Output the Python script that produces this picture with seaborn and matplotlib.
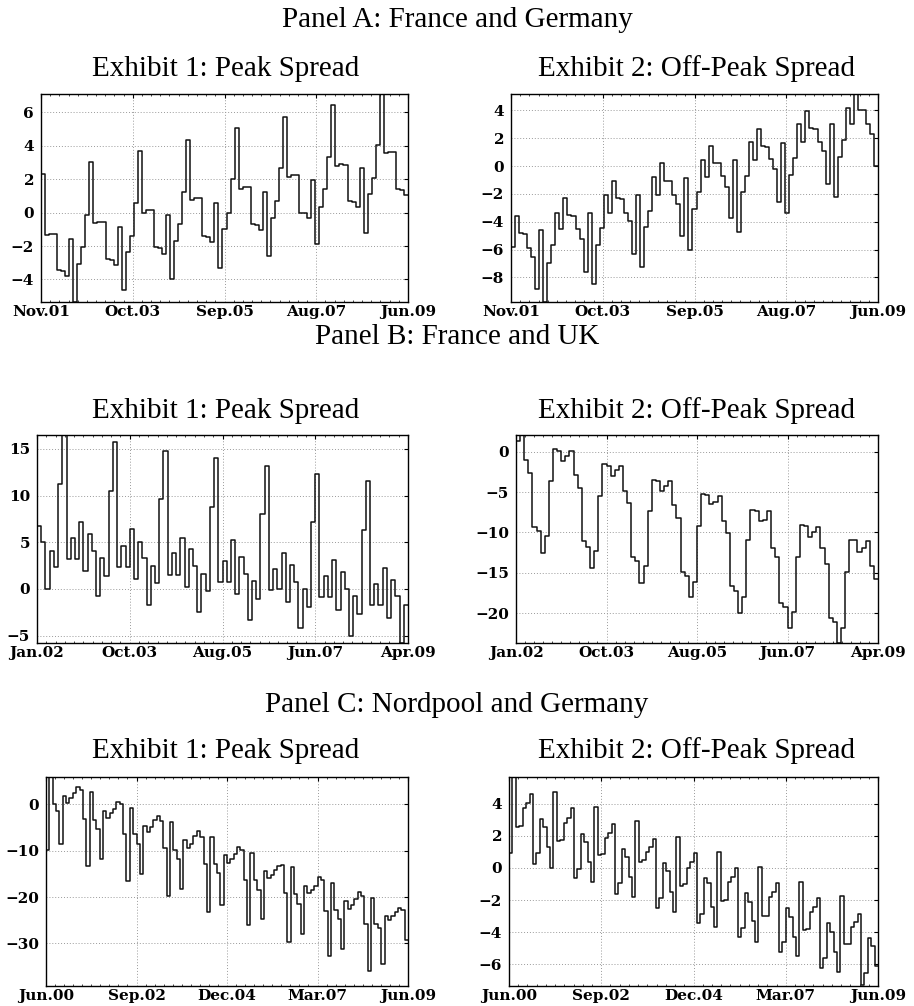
import numpy as np
import pandas as pd
import matplotlib
matplotlib.use("Agg")
import matplotlib.pyplot as plt
import seaborn as sns

# ---- Panel A: France and Germany (Nov.01 - Jun.09) ----
fr_de_peak = [2.3, -1.35, -1.25, -1.25, -3.45, -3.5, -3.8, -1.55, -5.35, -3.1, -2.05, -0.15,
              3.0, -0.65, -0.55, -0.55, -2.8, -2.85, -3.15, -0.85, -4.65, -2.35, -1.4, 0.55,
              3.7, 0.0, 0.15, 0.15, -2.05, -2.1, -2.45, -0.15, -3.95, -1.7, -0.7, 1.25,
              4.35, 0.75, 0.85, 0.85, -1.4, -1.45, -1.75, 0.55, -3.3, -1.0, 0.0, 2.0,
              5.05, 1.4, 1.55, 1.55, -0.7, -0.75, -1.05, 1.25, -2.6, -0.3, 0.7, 2.65,
              5.75, 2.15, 2.25, 2.25, 0.0, -0.05, -0.35, 1.95, -1.9, 0.35, 1.4, 3.35,
              6.45, 2.8, 2.9, 2.85, 0.7, 0.65, 0.35, 2.65, -1.2, 1.1, 2.1, 4.05,
              7.1, 3.55, 3.65, 3.65, 1.4, 1.35, 1.05]
fr_de_offpeak = [-5.8, -3.6, -4.8, -4.85, -5.85, -6.5, -8.85, -4.6, -9.76, -6.95, -5.7, -3.35,
                 -4.55, -2.3, -3.55, -3.6, -4.55, -5.25, -7.6, -3.35, -8.5, -5.65, -4.45, -2.05,
                 -3.35, -1.05, -2.3, -2.35, -3.35, -3.95, -6.35, -2.1, -7.25, -4.4, -3.2, -0.8,
                 -2.05, 0.2, -1.05, -1.1, -2.05, -2.7, -5.05, -0.85, -6.0, -3.1, -1.9, 0.45,
                 -0.8, 1.45, 0.25, 0.2, -0.7, -1.5, -3.75, 0.45, -4.7, -1.9, -0.7, 1.7,
                 0.45, 2.65, 1.45, 1.4, 0.5, -0.2, -2.55, 1.65, -3.4, -0.65, 0.55, 3.0,
                 1.7, 3.95, 2.75, 2.65, 1.75, 1.05, -1.3, 3.0, -2.2, 0.65, 1.9, 4.2,
                 3.05, 5.17, 4.0, 4.0, 3.05, 2.3, 0.0]
fr_de_dates = ["Nov.01", "Oct.03", "Sep.05", "Aug.07", "Jun.09"]

# ---- Panel B: France and UK (Jan.02 - Apr.09) ----
fr_uk_peak = [6.7, 5.0, 0.0, 4.1, 2.3, 11.3, 16.5, 3.2, 5.5, 3.2,
              7.2, 1.9, 5.9, 4.1, -0.8, 3.3, 1.4, 10.5, 15.7, 2.4,
              4.6, 2.4, 6.4, 1.1, 5.0, 3.3, -1.7, 2.5, 0.6, 9.6,
              14.8, 1.5, 3.8, 1.5, 5.5, 0.2, 4.3, 2.5, -2.5, 1.6,
              -0.2, 8.8, 14.0, 0.7, 3.0, 0.7, 5.2, -0.6, 3.4, 1.6,
              -3.35, 0.8, -1.05, 8.0, 13.2, -0.1, 2.1, 0.0, 3.85, -1.4,
              2.55, 0.75, -4.2, 0.0, -1.9, 7.2, 12.35, -0.9, 1.35, -0.9,
              3.05, -2.25, 1.8, -0.05, -5.0, -0.8, -2.65, 6.35, 11.6, -1.75,
              0.55, -1.75, 2.25, -3.1, 0.95, -0.8, -5.8, -1.7]
fr_uk_offpeak = [1.3, 2.06, -1.05, -2.7, -9.3, -9.8, -12.5, -10.4, -3.6, 0.3,
                 0.1, -1.15, -0.5, 0.1, -2.9, -4.5, -11.1, -11.75, -14.35, -12.3,
                 -5.45, -1.55, -1.75, -3.0, -2.3, -1.75, -4.85, -6.4, -13.0, -13.6,
                 -16.3, -14.2, -7.35, -3.5, -3.6, -4.85, -4.25, -3.6, -6.6, -8.25,
                 -14.85, -15.45, -18.05, -16.1, -9.15, -5.3, -5.4, -6.5, -6.2, -5.55,
                 -8.6, -10.1, -16.7, -17.3, -20.0, -18.0, -10.9, -7.2, -7.3, -8.65,
                 -8.5, -7.4, -11.95, -13.0, -18.75, -19.2, -21.85, -19.8, -13.0, -9.1,
                 -9.15, -10.6, -9.9, -9.3, -11.95, -13.9, -20.6, -21.1, -23.7, -21.9,
                 -14.85, -10.9, -10.9, -12.4, -11.9, -11.1, -14.2, -15.75]
fr_uk_dates = ["Jan.02", "Oct.03", "Aug.05", "Jun.07", "Apr.09"]

# ---- Panel C: Nordpool and Germany (Jun.00 - Jun.09) ----
np_de_peak = [-9.9, 5.9, 0.0, -1.5, -8.5, 1.8, 0.2, 1.3, 2.5, 3.7, 3.0, -3.2, -13.3,
              2.6, -3.4, -5.4, -11.9, -1.4, -2.9, -1.8, -0.9, 0.5, 0.0, -6.3, -16.5,
              -0.8, -6.5, -8.6, -15.0, -4.6, -6.0, -4.9, -3.3, -2.6, -3.5, -9.5, -19.8,
              -3.9, -9.9, -11.9, -18.3, -7.8, -9.4, -8.6, -6.8, -5.7, -7.0, -12.9, -23.2,
              -7.0, -12.9, -14.8, -21.7, -11.0, -12.6, -11.7, -10.8, -9.2, -9.8, -16.4, -26.1,
              -10.6, -16.4, -18.4, -24.8, -14.4, -15.9, -15.2, -14.2, -13.2, -13.1, -19.2, -29.6,
              -13.6, -19.4, -21.4, -27.9, -17.6, -19.2, -18.5, -17.7, -15.6, -16.4, -23.0, -32.7,
              -16.9, -22.8, -24.8, -31.2, -20.9, -22.5, -21.7, -20.5, -18.9, -19.7, -25.8, -35.9,
              -20.3, -25.8, -26.7, -34.5, -24.1, -25.0, -24.1, -23.3, -22.3, -22.8, -29.3]
np_de_offpeak = [0.95, 5.65, 2.55, 2.6, 3.7, 4.05, 4.6, 0.25, 0.9, 3.05, 2.55, 1.3, 0.0,
                 4.7, 1.7, 1.75, 2.8, 3.1, 3.7, -0.6, -0.05, 2.1, 1.6, 0.35, -0.9,
                 3.8, 0.8, 0.85, 1.85, 2.2, 2.75, -1.6, -0.95, 1.2, 0.7, -0.55, -1.8,
                 2.9, 0.35, 0.5, 1.0, 1.3, 1.8, -2.5, -1.9, 0.3, -0.2, -1.5, -2.75,
                 1.95, -1.1, -1.0, 0.0, 0.35, 0.9, -3.4, -2.85, -0.6, -0.95, -2.4, -3.65,
                 1.0, -2.05, -2.0, -0.85, -0.55, 0.0, -4.3, -3.75, -1.55, -2.1, -3.3, -4.6,
                 0.05, -3.0, -3.0, -1.8, -1.5, -0.95, -5.25, -4.6, -2.5, -3.05, -4.3, -5.5,
                 -0.85, -3.85, -3.8, -2.75, -2.4, -1.9, -6.2, -5.6, -3.45, -4.0, -5.2, -6.45,
                 -1.75, -4.75, -4.7, -3.7, -3.35, -2.85, -7.3, -6.55, -4.35, -4.85, -6.1]
np_de_dates = ["Jun.00", "Sep.02", "Dec.04", "Mar.07", "Jun.09"]

panel_titles = ["Panel A: France and Germany",
                "Panel B: France and UK",
                "Panel C: Nordpool and Germany"]
exhibit_titles = ["Exhibit 1: Peak Spread", "Exhibit 2: Off-Peak Spread"]

sns.set_theme(style="white")
plt.rcParams["font.family"] = ["Liberation Serif", "DejaVu Serif"]
plt.rcParams["axes.unicode_minus"] = True

W, H = 914, 1006
fig = plt.figure(figsize=(W / 100, H / 100), dpi=100)
fig.patch.set_facecolor("white")


def add_axes_px(left, top, right, bottom):
    return fig.add_axes([left / W, 1 - bottom / H, (right - left) / W, (bottom - top) / H])


# series, date labels, y ticks, y limits, axes box (left, top, right, bottom) in pixels
panels = [
    (fr_de_peak, fr_de_dates, [-4, -2, 0, 2, 4, 6], (-5.35, 7.1), (41, 94, 408, 302)),
    (fr_de_offpeak, fr_de_dates, [-8, -6, -4, -2, 0, 2, 4], (-9.76, 5.17), (511, 94, 878, 302)),
    (fr_uk_peak, fr_uk_dates, [-5, 0, 5, 10, 15], (-5.8, 16.5), (37, 435, 408, 643)),
    (fr_uk_offpeak, fr_uk_dates, [-20, -15, -10, -5, 0], (-23.7, 2.06), (516, 435, 878, 643)),
    (np_de_peak, np_de_dates, [-30, -20, -10, 0], (-39.2, 5.9), (46, 777, 408, 986)),
    (np_de_offpeak, np_de_dates, [-6, -4, -2, 0, 2, 4], (-7.34, 5.65), (509, 777, 878, 986)),
]

tick_font = dict(family="DejaVu Serif", weight="bold", size=11)

for values, dates, yticks, ylim, box in panels:
    ax = add_axes_px(*box)
    n = len(values)
    df = pd.DataFrame({"month": np.arange(n + 1),
                       "spread": list(values) + [values[-1]]})
    sns.lineplot(data=df, x="month", y="spread", ax=ax, color="#111111",
                 linewidth=1.1, drawstyle="steps-post", estimator=None)
    ax.set_xlim(0, n)
    ax.set_ylim(*ylim)
    ax.set_xticks(np.linspace(0, n, 5))
    ax.set_xticklabels(dates, **tick_font)
    ax.set_xticks(np.linspace(0, n, 41), minor=True)
    ax.set_yticks(yticks)
    ax.set_yticklabels([f"{t:g}".replace("-", "\u2212") for t in yticks], **tick_font)
    ax.set_xlabel("")
    ax.set_ylabel("")
    ax.grid(True, which="major", linestyle=(0, (1, 2)), color="#9a9a9a", linewidth=0.7)
    ax.tick_params(axis="both", which="major", direction="in", length=3, width=0.8,
                   top=True, right=True, colors="black")
    ax.tick_params(axis="x", which="major", pad=2)
    ax.tick_params(axis="y", which="major", pad=5)
    ax.tick_params(axis="x", which="minor", direction="in", length=1.5, width=0.6,
                   top=True, bottom=True)
    for s in ax.spines.values():
        s.set_color("black")
        s.set_linewidth(1.0)

title_font = dict(family=["Liberation Serif", "DejaVu Serif"], size=21, color="black")
for y, t in zip([27, 344, 712], panel_titles):
    fig.text(0.5, 1 - y / H, t, ha="center", va="baseline", **title_font)
for y in [76, 418, 758]:
    fig.text(226 / W, 1 - y / H, exhibit_titles[0], ha="center", va="baseline", **title_font)
    fig.text(697 / W, 1 - y / H, exhibit_titles[1], ha="center", va="baseline", **title_font)

fig.savefig("out.png", dpi=100, facecolor="white")
